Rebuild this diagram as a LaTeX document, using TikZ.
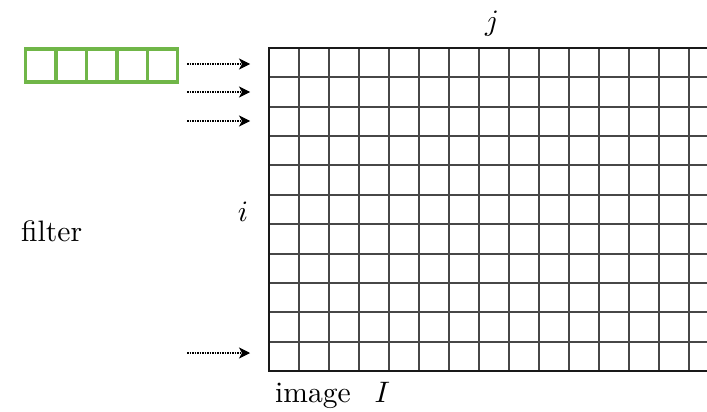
\documentclass[tikz,border=0pt]{standalone}
\usepackage{graphicx}
\usetikzlibrary{arrows.meta}
\definecolor{filtergreen}{RGB}{112,182,72}
\newcommand{\bigtxt}[1]{\scalebox{2.96}{\fontsize{10}{12}\selectfont #1}}
\begin{document}
\begin{tikzpicture}[x=1pt,y=-1pt,
  lbl/.style={inner sep=0pt},
  gridline/.style={line width=1.7pt,black!72},
  border/.style={line width=2.6pt,black!90},
  slide/.style={line width=2.4pt,dash pattern=on 1.5pt off 1pt,shorten >=9pt},
  sliptip/.style={-{Stealth[length=11pt,width=11pt,inset=3pt]},line width=0.6pt,solid},
  cellbox/.style={draw=filtergreen,line width=3.4pt}]
\useasboundingbox (0,0) rectangle (707,412);
% image grid
\foreach \k in {1,...,14} {
  \draw[gridline] ({269+30*\k},48) -- ({269+30*\k},371);
}
\foreach \r in {1,...,10} {
  \draw[gridline] (269,{round(48+29.36*\r)}) -- (707,{round(48+29.36*\r)});
}
\coordinate (gtl) at (269,48);
\coordinate (gbl) at (269,371);
\coordinate (gtr) at (707,48);
\coordinate (gbr) at (707,371);
\draw[border] (gtr) -- (gtl) -- (gbl) -- (gbr);
% filter
\foreach \c in {0,...,4} {
  \node[cellbox,minimum width=30.4pt,minimum height=33pt,inner sep=0pt,anchor=north west] (f\c) at ({24+30.4*\c},47.5) {};
}
% arrows
\foreach \n/\y in {1/64,2/92,3/121,4/353} {
  \coordinate (s\n) at (187,\y);
  \coordinate (e\n) at (250,\y);
  \coordinate (m\n) at (242,\y);
  \draw[slide] (s\n) -- (e\n);
  \draw[sliptip] (m\n) -- (e\n);
}
% labels
\node[lbl,anchor=base west] (filt) at (21,241) {\bigtxt{filter}};
\node[lbl,anchor=base west] (img) at (275,402) {\bigtxt{image\hspace{8pt}$I$}};
\node[lbl] (jl) at (492,24) {\bigtxt{$j$}};
\node[lbl] (il) at (243,212) {\bigtxt{$i$}};
\end{tikzpicture}
\end{document}
